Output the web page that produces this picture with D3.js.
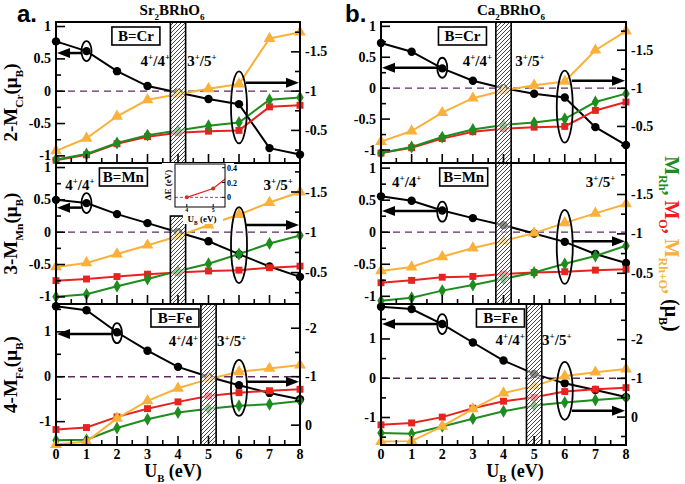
<!DOCTYPE html>
<html>
<head>
<meta charset="utf-8">
<style>
  body { margin: 0; background: white; }
  svg { display: block; font-family: 'Liberation Serif', 'Times New Roman', serif; font-weight: bold; }
</style>
</head>
<body>
<svg width="685" height="484"></svg>
<script src="https://d3js.org/d3.v7.min.js"></script>
<script>
// U_B (eV)
const uB = [0, 1, 2, 3, 4, 5, 6, 7, 8];

// Sr2BRhO6 : black = n-M_B (left axis), Rh / O / Rh+O moments on the right axis
const srCrB   = [0.77, 0.62, 0.31, 0.08, -0.02, -0.12, -0.20, -0.88, -0.98];
const srCrRh  = [-0.13, -0.20, -0.34, -0.44, -0.50, -0.56, -0.60, -0.89, -0.92];
const srCrO   = [-0.12, -0.19, -0.33, -0.42, -0.47, -0.49, -0.50, -0.80, -0.82];
const srCrTot = [-0.24, -0.40, -0.68, -0.89, -0.96, -1.03, -1.09, -1.67, -1.75];

const srMnB   = [0.50, 0.45, 0.28, 0.14, 0.00, -0.14, -0.34, -0.53, -0.69];
const srMnRh  = [-0.20, -0.23, -0.33, -0.42, -0.52, -0.61, -0.73, -0.86, -0.96];
const srMnO   = [-0.40, -0.42, -0.45, -0.48, -0.50, -0.52, -0.53, -0.56, -0.58];
const srMnTot = [-0.57, -0.62, -0.73, -0.84, -0.95, -1.09, -1.22, -1.37, -1.50];

const srFeB   = [1.57, 1.48, 0.99, 0.58, 0.22, 0.00, -0.19, -0.36, -0.50];
const srFeRh  = [0.31, 0.30, 0.06, -0.12, -0.26, -0.34, -0.40, -0.43, -0.50];
const srFeO   = [0.09, 0.05, -0.17, -0.34, -0.48, -0.60, -0.67, -0.71, -0.74];
const srFeTot = [0.40, 0.34, -0.14, -0.50, -0.76, -0.95, -1.10, -1.17, -1.24];

// Ca2BRhO6
const caCrB   = [0.73, 0.59, 0.32, 0.12, 0.00, -0.09, -0.15, -0.63, -0.92];
const caCrRh  = [-0.15, -0.23, -0.36, -0.46, -0.52, -0.55, -0.60, -0.82, -0.93];
const caCrO   = [-0.15, -0.22, -0.34, -0.43, -0.47, -0.49, -0.50, -0.71, -0.82];
const caCrTot = [-0.30, -0.44, -0.68, -0.87, -0.97, -1.04, -1.09, -1.50, -1.75];

const caMnB   = [0.56, 0.49, 0.34, 0.22, 0.11, -0.02, -0.15, -0.34, -0.48];
const caMnRh  = [-0.15, -0.19, -0.28, -0.35, -0.43, -0.51, -0.62, -0.72, -0.85];
const caMnO   = [-0.38, -0.41, -0.45, -0.46, -0.49, -0.51, -0.52, -0.54, -0.55];
const caMnTot = [-0.53, -0.58, -0.71, -0.82, -0.91, -1.01, -1.14, -1.26, -1.38];

const caFeB   = [1.82, 1.76, 1.38, 0.91, 0.45, 0.11, -0.13, -0.30, -0.48];
const caFeRh  = [0.41, 0.43, 0.24, 0.04, -0.15, -0.30, -0.38, -0.44, -0.50];
const caFeO   = [0.20, 0.15, 0.00, -0.23, -0.41, -0.51, -0.66, -0.72, -0.76];
const caFeTot = [0.63, 0.62, 0.24, -0.21, -0.62, -0.80, -1.06, -1.16, -1.24];

// inset: energy difference vs U_B
const dEU = [4, 5, 6];
const dE  = [0.00, 0.12, 0.40];

const xTicks = [0, 1, 2, 3, 4, 5, 6, 7, 8];

const cBlack = "#000", cRh = "#1e8c1e", cO = "#e8221e", cTot = "#f9b13a";

let svg = d3.select("svg");

// hatch for the transition bars
let pat = svg.append("defs").append("pattern")
    .attr("id", "hatch").attr("patternUnits", "userSpaceOnUse")
    .attr("width", 4).attr("height", 4);
pat.append("rect").attr("width", 4).attr("height", 4).attr("fill", "white").attr("fill-opacity", 0.55);
pat.append("path").attr("d", "M-1,1 l2,-2 M0,4 l4,-4 M3,5 l2,-2")
    .attr("stroke", "#333").attr("stroke-width", 0.9);

// text with sub/superscripts
function rich(t, parts, size) {
    let prev = 0;
    parts.forEach(p => {
        let kind = p[1] || "n";
        let shift = kind == "sub" ? size * 0.3 : kind == "sup" ? -size * 0.38 : 0;
        t.append("tspan")
            .attr("dy", shift - prev)
            .attr("font-size", kind == "n" ? size : size * 0.6)
            .attr("fill", p[2] || "black")
            .text(p[0]);
        prev = shift;
    });
    return t;
}

const sides = [
    { x0: 56, x1: 300, tag: "a.", tagX: 17, cmp: "Sr", titleX: 172, uX: 173 },
    { x0: 381, x1: 626, tag: "b.", tagX: 345, cmp: "Ca", titleX: 511, uX: 515 }
];
const rows = [[22, 163], [163, 304], [304, 445]];

const panels = [
    { s: 0, r: 0, el: "Cr", n: 2, m: srCrB, rh: srCrRh, o: srCrO, tot: srCrTot,
      yL: [-1.11, 1.07], yR: [-0.085, -1.88], bar: [3.75, 4.25],
      box: 2.62, t44: [3.74, "end"], t35: [4.3, "start"], tY: 0.39,
      ann: { sx: 1, sy: 0.62, al: 0.59, bx: 6, by: -0.25, bry: 36, ar: 0.13 } },
    { s: 0, r: 1, el: "Mn", n: 3, m: srMnB, rh: srMnRh, o: srMnO, tot: srMnTot,
      yL: [-1.11, 1.07], yR: [-0.11, -1.86], bar: [3.75, 4.25], barTop: 0.25,
      box: 2.21, t44: [0.3, "start"], t35: [7.77, "end"], tY: 0.65,
      ann: { sx: 1, sy: 0.45, al: 0.38, bx: 6, by: -0.2, bry: 38, ar: 0.11 } },
    { s: 0, r: 2, el: "Fe", n: 4, m: srFeB, rh: srFeRh, o: srFeO, tot: srFeTot,
      yL: [-1.52, 1.62], yR: [0.41, -2.5], bar: [4.75, 5.25],
      box: 3.9, t44: [4.66, "end"], t35: [5.28, "start"], tY: 0.68,
      ann: { sx: 2, sy: 0.97, al: 0.95, bx: 6, by: -0.25, bry: 28, ar: -0.11 } },
    { s: 1, r: 0, el: "Cr", n: 2, m: caCrB, rh: caCrRh, o: caCrO, tot: caCrTot,
      yL: [-1.21, 1.07], yR: [-0.02, -1.87], bar: [3.75, 4.25],
      box: 2.66, t44: [3.63, "end"], t35: [4.38, "start"], tY: 0.36,
      ann: { sx: 2, sy: 0.33, al: 0.33, bx: 6, by: -0.30, bry: 36, ar: 0.12 } },
    { s: 1, r: 1, el: "Mn", n: 3, m: caMnB, rh: caMnRh, o: caMnO, tot: caMnTot,
      yL: [-1.12, 1.08], yR: [-0.11, -1.9], bar: [3.75, 4.25],
      box: 2.7, t44: [0.36, "start"], t35: [7.65, "end"], tY: 0.71,
      ann: { sx: 2, sy: 0.32, al: 0.33, bx: 6, by: -0.23, bry: 37, ar: -0.14 } },
    { s: 1, r: 2, el: "Fe", n: 4, m: caFeB, rh: caFeRh, o: caFeO, tot: caFeTot,
      yL: [-1.7, 1.89], yR: [0.72, -2.92], bar: [4.75, 5.25],
      box: 3.9, t44: [4.7, "end"], t35: [5.26, "start"], tY: 0.85,
      ann: { sx: 2, sy: 1.38, al: 1.38, bx: 6, by: -0.32, bry: 29, ar: -0.83 } }
];

function tickVals(dom, step) {
    let lo = Math.min(dom[0], dom[1]), hi = Math.max(dom[0], dom[1]);
    return d3.range(Math.ceil(lo / step - 1e-9) * step, hi, step)
        .filter(v => v > lo + 0.02 && v < hi - 0.02)
        .map(v => +v.toFixed(3));
}

function arrowHead(g, x, y, dir) {
    g.append("path")
        .attr("d", `M${x},${y} l${-dir * 13},-5 l0,10 Z`)
        .attr("fill", "black");
}

panels.forEach(p => {
    let side = sides[p.s], row = rows[p.r];
    let x = d3.scaleLinear().domain([0, 8]).range([side.x0, side.x1]);
    let yL = d3.scaleLinear().domain(p.yL).range([row[1], row[0]]);
    let yR = d3.scaleLinear().domain(p.yR).range([row[1], row[0]]);
    let g = svg.append("g");
    let big = p.r == 2;

    // zero line
    g.append("line")
        .attr("x1", side.x0).attr("x2", side.x1)
        .attr("y1", yL(0)).attr("y2", yL(0))
        .attr("stroke", "#5e2a5e").attr("stroke-width", 1.3).attr("stroke-dasharray", "7,5");

    let series = [
        { v: p.m, y: yL, c: cBlack, sym: "circle" },
        { v: p.o, y: yR, c: cO, sym: d3.symbolSquare, size: 48 },
        { v: p.rh, y: yR, c: cRh, sym: d3.symbolDiamond, size: 48 },
        { v: p.tot, y: yR, c: cTot, sym: d3.symbolTriangle, size: 60 }
    ];
    series.forEach(s => {
        let line = d3.line().x((d, i) => x(uB[i])).y(d => s.y(d));
        g.append("path").datum(s.v)
            .attr("d", line).attr("fill", "none")
            .attr("stroke", s.c).attr("stroke-width", 2);
        if (s.sym == "circle") {
            g.selectAll(null).data(s.v).join("circle")
                .attr("cx", (d, i) => x(uB[i])).attr("cy", d => s.y(d))
                .attr("r", 4.2).attr("fill", s.c);
        } else {
            g.selectAll(null).data(s.v).join("path")
                .attr("d", d3.symbol(s.sym, s.size))
                .attr("transform", (d, i) => `translate(${x(uB[i])},${s.y(d)})`)
                .attr("fill", s.c);
        }
    });

    // transition bar
    let barTop = p.barTop != null ? yL(p.barTop) : row[0];
    g.append("rect")
        .attr("x", x(p.bar[0])).attr("width", x(p.bar[1]) - x(p.bar[0]))
        .attr("y", barTop).attr("height", row[1] - barTop)
        .attr("fill", "url(#hatch)").attr("stroke", "black").attr("stroke-width", 1.6);

    // ellipses + arrows
    let a = p.ann;
    g.append("ellipse")
        .attr("cx", x(a.sx)).attr("cy", yL(a.sy)).attr("rx", 5).attr("ry", 10)
        .attr("fill", "none").attr("stroke", "black").attr("stroke-width", 1.8);
    g.append("line")
        .attr("x1", x(a.sx) - 5).attr("x2", side.x0 + 8)
        .attr("y1", yL(a.al)).attr("y2", yL(a.al))
        .attr("stroke", "black").attr("stroke-width", 2.5);
    arrowHead(g, side.x0 + 1, yL(a.al), -1);
    g.append("ellipse")
        .attr("cx", x(a.bx)).attr("cy", yL(a.by)).attr("rx", 8).attr("ry", a.bry)
        .attr("fill", "none").attr("stroke", "black").attr("stroke-width", 1.8);
    g.append("line")
        .attr("x1", x(a.bx) + 7).attr("x2", side.x1 - 8)
        .attr("y1", yL(a.ar)).attr("y2", yL(a.ar))
        .attr("stroke", "black").attr("stroke-width", 2.5);
    arrowHead(g, side.x1 - 1, yL(a.ar), 1);

    // valence labels
    [p.t44, p.t35].forEach((t, k) => {
        let txt = g.append("text").attr("x", x(t[0])).attr("y", yL(p.tY))
            .attr("text-anchor", t[1]);
        let d = k == 0 ? [["4"], ["+", "sup"], ["/4"], ["+", "sup"]] : [["3"], ["+", "sup"], ["/5"], ["+", "sup"]];
        rich(txt, d, 15);
    });

    // B=.. box
    let bw = 48, bh = 18;
    g.append("rect")
        .attr("x", x(p.box) - bw / 2).attr("y", row[0] + 5)
        .attr("width", bw).attr("height", bh)
        .attr("fill", "white").attr("stroke", "black").attr("stroke-width", 1.6);
    g.append("text").attr("x", x(p.box)).attr("y", row[0] + 19)
        .attr("text-anchor", "middle").attr("font-size", 15).text("B=" + p.el);

    // frame
    g.append("rect")
        .attr("x", side.x0).attr("y", row[0])
        .attr("width", side.x1 - side.x0).attr("height", row[1] - row[0])
        .attr("fill", "none").attr("stroke", "black").attr("stroke-width", 2);

    // ticks
    let tk = g.append("g").attr("stroke", "black").attr("stroke-width", 1.6);
    let lStep = big ? 1 : 0.5, rStep = big ? 1 : 0.5;
    let lMaj = tickVals(p.yL, lStep), lMin = tickVals(p.yL, lStep / 2);
    let rMaj = tickVals(p.yR, rStep), rMin = tickVals(p.yR, rStep / 2);
    lMin.forEach(v => {
        let len = lMaj.includes(v) ? 9 : 5;
        tk.append("line").attr("x1", side.x0).attr("x2", side.x0 + len).attr("y1", yL(v)).attr("y2", yL(v));
    });
    rMin.forEach(v => {
        let len = rMaj.includes(v) ? 9 : 5;
        tk.append("line").attr("x1", side.x1).attr("x2", side.x1 - len).attr("y1", yR(v)).attr("y2", yR(v));
    });
    d3.range(0.5, 8, 0.5).forEach(v => {
        let len = Number.isInteger(v) ? 9 : 5;
        tk.append("line").attr("x1", x(v)).attr("x2", x(v)).attr("y1", row[1]).attr("y2", row[1] - len);
    });

    g.selectAll(null).data(lMaj).join("text")
        .attr("x", side.x0 - 5).attr("y", d => yL(d) + 4.5)
        .attr("text-anchor", "end").attr("font-size", 14)
        .text(d => String(d));
    g.selectAll(null).data(rMaj).join("text")
        .attr("x", side.x1 + 5).attr("y", d => yR(d) + 4.5)
        .attr("font-size", 14)
        .text(d => String(d));

    // y title (left column only)
    if (p.s == 0) {
        let yt = g.append("text")
            .attr("transform", `translate(${side.x0 - 39},${(row[0] + row[1]) / 2 + (p.r == 0 ? 10 : 0)}) rotate(-90)`)
            .attr("text-anchor", "middle");
        rich(yt, [[p.n + "-M"], [p.el, "sub"], ["(\u03bc"], ["B", "sub"], [")"]], 19);
    }

    if (p.r == 2) {
        g.selectAll(null).data(xTicks).join("text")
            .attr("x", d => x(d)).attr("y", row[1] + 14)
            .attr("text-anchor", "middle").attr("font-size", 14)
            .text(d => d);
        let xt = g.append("text").attr("x", side.uX).attr("y", 477).attr("text-anchor", "middle");
        rich(xt, [["U"], ["B", "sub"], [" (eV)"]], 18);
    }
});

// titles and panel tags
sides.forEach(s => {
    let t = svg.append("text").attr("x", s.titleX).attr("y", 15).attr("text-anchor", "middle");
    rich(t, [[s.cmp], ["2", "sub"], ["BRhO"], ["6", "sub"]], 15);
    svg.append("text").attr("x", s.tagX).attr("y", 22)
        .attr("font-family", "'Liberation Sans', Arial, sans-serif")
        .attr("font-size", 24).text(s.tag);
});

// right side label
let rl = svg.append("text")
    .attr("transform", "translate(665,244) rotate(90)")
    .attr("text-anchor", "middle");
rich(rl, [["M", "n", cRh], ["Rh", "sub", cRh], [", ", "n", cRh], ["M", "n", cO], ["O", "sub", cO], [", ", "n", cO],
          ["M", "n", cTot], ["Rh+O", "sub", cTot], [", ", "n", cTot], ["(\u03bc"], ["B", "sub"], [")"]], 20);

// inset: Delta E vs U_B
let ix = d3.scaleLinear().domain([3.55, 5.45]).range([175, 225]);
let iy = d3.scaleLinear().domain([-0.13, 0.45]).range([207, 164]);
let ins = svg.append("g");
ins.append("rect").attr("x", 162).attr("y", 163).attr("width", 72).attr("height", 50).attr("fill", "white");
ins.append("rect").attr("x", 183).attr("y", 207).attr("width", 40).attr("height", 17).attr("fill", "white");
svg.select("defs").append("clipPath").attr("id", "insClip")
    .append("rect").attr("x", 175).attr("y", 164).attr("width", 50).attr("height", 43);
ins.append("line").attr("x1", 175).attr("x2", 225).attr("y1", iy(0)).attr("y2", iy(0))
    .attr("stroke", "#5e2a5e").attr("stroke-width", 0.8).attr("stroke-dasharray", "3,2");
ins.append("path").datum(dE)
    .attr("d", d3.line().x((d, i) => ix(dEU[i])).y(d => iy(d)))
    .attr("clip-path", "url(#insClip)")
    .attr("fill", "none").attr("stroke", cO).attr("stroke-width", 1.2);
ins.selectAll(null).data(dE.slice(0, 2)).join("circle")
    .attr("cx", (d, i) => ix(dEU[i])).attr("cy", d => iy(d)).attr("r", 2).attr("fill", cO);
ins.append("rect").attr("x", 175).attr("y", 164).attr("width", 50).attr("height", 43)
    .attr("fill", "none").attr("stroke", "black").attr("stroke-width", 1);
[0, 0.2, 0.4].forEach(v => {
    ins.append("line").attr("x1", 225).attr("x2", 222).attr("y1", iy(v)).attr("y2", iy(v)).attr("stroke", "black");
    ins.append("text").attr("x", 227).attr("y", iy(v) + 3).attr("font-size", 8).text(v);
});
[4, 5].forEach(v => {
    ins.append("line").attr("x1", ix(v)).attr("x2", ix(v)).attr("y1", 207).attr("y2", 204).attr("stroke", "black");
    ins.append("text").attr("x", ix(v)).attr("y", 212).attr("text-anchor", "middle").attr("font-size", 6).text(v);
});
let iyt = ins.append("text").attr("transform", "translate(171,185) rotate(-90)").attr("text-anchor", "middle");
rich(iyt, [["\u0394E (eV)"]], 9);
let ixt = ins.append("text").attr("x", 202).attr("y", 222).attr("text-anchor", "middle");
rich(ixt, [["U"], ["B", "sub"], [" (eV)"]], 9);
</script>
</body>
</html>
